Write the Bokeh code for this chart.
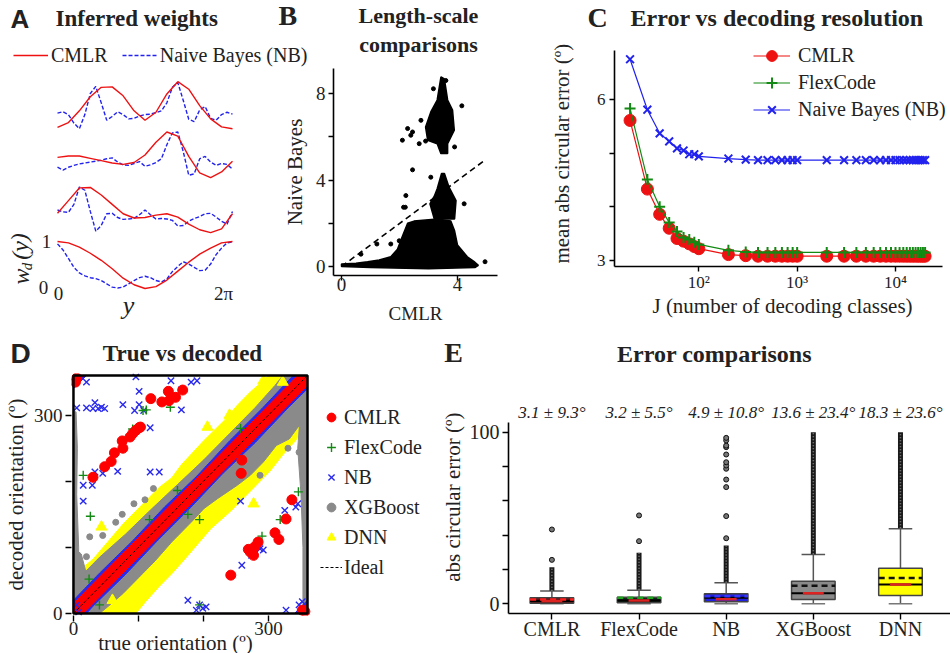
from bokeh.plotting import figure
from bokeh.models import Range1d, FixedTicker, Legend, LegendItem, Label, BoxAnnotation
from bokeh.embed import file_html
from bokeh.resources import INLINE

SERIF = "Liberation Serif"
SANS = "Liberation Sans"
INK = "#222222"
PAGE_W, PAGE_H = 950, 653

# ---------------- Panel A data (inferred weights, normalised 0..1) ----------------
grid16 = [0, 22.5, 45, 67.5, 90, 112.5, 135, 157.5, 180, 202.5, 225, 247.5, 270, 292.5, 315, 337.5, 360]
grid32 = [0, 11.25, 22.5, 33.75, 45, 56.25, 67.5, 78.75, 90, 101.25, 112.5, 123.75, 135, 146.25,
          157.5, 168.75, 180, 191.25, 202.5, 213.75, 225, 236.25, 247.5, 258.75, 270, 281.25,
          292.5, 303.75, 315, 326.25, 337.5, 348.75, 360]
cmlr_w1 = [0.03, 0.13, 0.38, 0.68, 0.88, 0.89, 0.70, 0.38, 0.18, 0.35, 0.74, 1.00, 0.84, 0.49, 0.21, 0.04, 0.00]
cmlr_w2 = [0.43, 0.46, 0.46, 0.41, 0.36, 0.31, 0.28, 0.32, 0.48, 0.75, 0.97, 0.88, 0.45, 0.10, 0.00, 0.12, 0.35]
cmlr_w3 = [0.41, 0.68, 0.95, 0.96, 0.80, 0.60, 0.40, 0.31, 0.32, 0.37, 0.40, 0.33, 0.18, 0.06, 0.00, 0.08, 0.40]
cmlr_w4 = [1.00, 0.97, 0.88, 0.75, 0.60, 0.42, 0.22, 0.08, 0.00, 0.04, 0.18, 0.37, 0.56, 0.73, 0.86, 0.97, 1.00]
nb_w1 = [0.33, 0.36, 0.30, 0.12, 0.00, 0.30, 0.75, 0.90, 0.55, 0.18, 0.26, 0.36, 0.30, 0.21, 0.22, 0.27, 0.30,
         0.31, 0.34, 0.38, 0.55, 0.88, 0.98, 0.60, 0.20, 0.15, 0.40, 0.47, 0.22, 0.18, 0.30, 0.35, 0.31]
nb_w2 = [0.22, 0.16, 0.22, 0.26, 0.29, 0.31, 0.33, 0.35, 0.37, 0.40, 0.42, 0.33, 0.27, 0.26, 0.30, 0.34, 0.24,
         0.27, 0.32, 0.40, 0.70, 0.95, 0.97, 0.55, 0.05, 0.08, 0.40, 0.45, 0.33, 0.26, 0.30, 0.28, 0.18]
nb_w3 = [0.48, 0.44, 0.43, 0.60, 0.97, 0.90, 0.45, 0.03, 0.15, 0.40, 0.41, 0.32, 0.28, 0.29, 0.30, 0.38, 0.48,
         0.38, 0.29, 0.30, 0.29, 0.26, 0.14, 0.15, 0.24, 0.30, 0.34, 0.40, 0.41, 0.33, 0.24, 0.18, 0.45]
nb_w4 = [0.95, 0.82, 0.64, 0.45, 0.33, 0.27, 0.23, 0.21, 0.17, 0.10, 0.03, 0.01, 0.03, 0.10, 0.17, 0.23, 0.26,
         0.23, 0.17, 0.14, 0.20, 0.36, 0.47, 0.57, 0.52, 0.45, 0.38, 0.39, 0.52, 0.72, 0.86, 0.97, 0.99]
stack_offsets = [3.40, 2.36, 1.19, 0.0]

# ---------------- Panel B data (length-scales) ----------------
b_low_x = [0.0, 0.5, 0.9, 1.3, 1.7, 1.93, 2.1, 2.28, 2.5, 2.9, 3.3, 3.77, 3.9, 4.0, 4.34, 4.6, 4.72, 4.6, 3.0, 1.0, 0.0]
b_low_y = [0.12, 0.15, 0.22, 0.3, 0.45, 0.8, 1.4, 2.0, 2.1, 2.15, 2.2, 2.1, 1.65, 1.0, 0.45, 0.2, 0.05, -0.05, -0.1, -0.05, 0.0]
b_mid_x = [3.2, 3.05, 3.2, 3.3, 3.45, 3.55, 3.7, 3.95, 3.9]
b_mid_y = [2.2, 2.9, 3.25, 3.6, 4.3, 4.3, 3.7, 3.05, 2.2]
b_top_x = [3.43, 3.3, 3.08, 2.9, 2.97, 3.3, 3.43, 3.66, 3.66, 3.89, 3.83, 3.66, 3.55]
b_top_y = [8.77, 7.7, 7.15, 6.45, 5.84, 5.68, 5.22, 5.22, 5.68, 6.3, 7.23, 7.7, 8.67]
b_pts_x = [2.28, 2.1, 2.39, 2.45, 2.74, 3.17, 4.15, 2.68, 3.9, 2.45, 3.08, 2.22, 2.14, 2.2, 4.23, 4.95,
           1.22, 0.67, 1.7, 1.99, 3.83, 2.9, 3.6]
b_pts_y = [6.38, 5.84, 6.07, 6.22, 6.76, 8.22, 7.43, 5.68, 5.53, 4.47, 4.13, 3.28, 2.74, 2.74, 2.9, 0.22,
           1.04, 0.57, 1.04, 1.19, 3.05, 5.8, 8.6]
b_diag_x = [0, 4.97]
b_diag_y = [0, 4.94]

# ---------------- Panel C data (error vs J) ----------------
J = [20, 30, 40, 50, 60, 70, 80, 90, 100, 200, 300, 400, 500, 600, 700, 800, 900, 1000,
     2000, 3000, 4000, 5000, 6000, 7000, 8000, 9000, 10000, 11000, 12000, 13000, 14000,
     15000, 16000, 17000, 18000, 19000, 20000]
c_cmlr = [5.61, 4.33, 3.86, 3.60, 3.41, 3.36, 3.31, 3.26, 3.22, 3.11, 3.09, 3.08, 3.08, 3.08, 3.08, 3.08,
          3.08, 3.08, 3.08, 3.08, 3.08, 3.08, 3.08, 3.08, 3.08, 3.08, 3.08, 3.08, 3.08, 3.08, 3.08,
          3.08, 3.08, 3.08, 3.08, 3.08, 3.08]
c_flex = [5.83, 4.51, 4.00, 3.71, 3.54, 3.43, 3.39, 3.34, 3.30, 3.19, 3.16, 3.15, 3.15, 3.15, 3.15, 3.15,
          3.15, 3.15, 3.15, 3.15, 3.15, 3.15, 3.15, 3.15, 3.15, 3.15, 3.15, 3.15, 3.15, 3.15, 3.15,
          3.15, 3.15, 3.15, 3.15, 3.15, 3.15]
c_nb = [6.75, 5.81, 5.37, 5.22, 5.09, 5.05, 4.98, 4.98, 4.94, 4.90, 4.88, 4.87, 4.87, 4.87, 4.87, 4.87,
        4.87, 4.87, 4.87, 4.87, 4.87, 4.87, 4.87, 4.87, 4.87, 4.87, 4.87, 4.87, 4.87, 4.87, 4.87,
        4.87, 4.87, 4.87, 4.87, 4.87, 4.87]

# ---------------- Panel D data (true vs decoded, degrees) ----------------
d_cmlr_x = [3, 5, 30, 48, 58, 63, 76, 75, 87, 91, 96, 101, 103, 119, 136, 146, 147, 157, 168,
            242, 259, 258, 269, 272, 277, 279, 284, 310, 316, 327, 336, 352, 356]
d_cmlr_y = [350, 356, 206, 222, 230, 243, 250, 261, 267, 272, 277, 281, 282, 325, 320, 336, 322, 327, 338,
            58, 232, 212, 97, 93, 88, 101, 108, 122, 112, 143, 172, 5, 3]
d_nb_x = [20, 5, 20, 33, 30, 38, 43, 48, 76, 94, 101, 101, 108, 118, 150, 166, 166, 181, 190,
          15, 15, 29, 33, 45, 68, 118, 132, 176, 194, 199, 204, 189, 259, 257, 274, 287, 292,
          325, 342, 345, 5, 8, 327, 347, 352, 96]
d_nb_y = [350, 311, 311, 319, 310, 310, 312, 310, 316, 307, 336, 316, 307, 281, 352, 338, 308, 350, 352,
          194, 170, 194, 214, 212, 215, 214, 214, 20, 13, 8, 10, 5, 73, 170, 88, 98, 96,
          156, 161, 166, 13, 2, 5, 13, 18, 358]
d_flex_x = [15, 26, 24, 107, 112, 149, 91, 290, 318, 346, 194, 117, 176, 194, 160, 257, 40]
d_flex_y = [209, 147, 52, 307, 308, 312, 279, 117, 142, 184, 13, 142, 150, 142, 186, 280, 13]
d_xgb_x = [123, 93, 65, 25, 20, 347, 287, 110, 75, 45, 330]
d_xgb_y = [189, 166, 138, 116, 86, 244, 209, 172, 150, 118, 250]
d_dnn_x = [206, 151, 98, 277, 43, 292, 322, 60, 240]
d_dnn_y = [282, 86, 25, 166, 131, 352, 350, 20, 300]
# regions densely covered by each decoder's points
d_red_xs = [[0, 0, 345, 360, 360, 15], [0, 0, 15], [345, 360, 360]]
d_red_ys = [[0, 15, 360, 360, 345, 0], [345, 360, 360], [0, 0, 15]]
d_blue_xs = [[0, 0, 40, 90, 140, 190, 240, 290, 338, 360, 360, 330, 280, 230, 180, 130, 80, 30, 20],
             [0, 0, 20], [340, 360, 360]]
d_blue_ys = [[0, 20, 61, 109, 161, 208, 261, 310, 360, 360, 340, 311, 259, 212, 160, 111, 59, 11, 0],
             [340, 360, 360], [0, 0, 20]]
d_yel_xs = [[0, 0, 30, 76, 101, 131, 151, 166, 201, 232, 252, 272, 292, 300, 360, 360, 342, 322, 302,
             282, 262, 242, 211, 191, 171, 151, 131, 111, 96]]
d_yel_ys = [[0, 58, 82, 135, 160, 190, 205, 225, 262, 292, 315, 335, 352, 360, 360, 290, 262, 240, 215,
             195, 175, 155, 128, 105, 82, 60, 40, 18, 0]]
d_gray_xs = [[0, 0, 40, 80, 120, 160, 200, 240, 280, 310, 322, 360, 360, 347, 332, 312, 292, 272, 252,
              222, 201, 181, 151, 126, 101, 76, 50, 40],
             [0, 7, 8, 5, 6, 4, 0],
             [0, 40, 30, 20, 12, 0],
             [353, 360, 360, 348, 345, 350, 353]]
d_gray_ys = [[0, 45, 85, 120, 158, 195, 232, 272, 312, 345, 360, 360, 300, 284, 264, 254, 229, 209, 194,
              174, 159, 138, 108, 80, 55, 30, 8, 0],
             [0, 0, 100, 180, 250, 305, 305],
             [0, 0, 30, 60, 90, 100],
             [0, 0, 300, 290, 250, 180, 100]]
d_ideal = [0, 360]
d_lim = [0, 360]

# ---------------- Panel E data (abs circular error boxplots) ----------------
e_names = ["CMLR", "FlexCode", "NB", "XGBoost", "DNN"]
e_pos = [1, 2, 3, 4, 5]
e_q1 = [0.35, 0.6, 1.2, 2.5, 4.8]
e_q3 = [3.5, 3.8, 5.8, 13.2, 20.7]
e_median = [1.7, 1.9, 3.5, 6.2, 11.2]
e_red_line = [1.7, 1.9, 2.7, 6.2, 11.2]
e_mean_line = [2.5, 3.5, 4.4, 10.5, 15.1]
e_whisk_lo = [0, 0, 0, 0, 0]
e_whisk_hi = [7.4, 7.9, 12.2, 28.7, 43.7]
e_dense_lo = [7.6, 8.2, 12.4, 28.9, 44.0]
e_dense_hi = [21.3, 29.7, 34.0, 100.0, 100.0]
e_out_x = [1, 1, 2, 2, 3, 3, 3, 3, 3, 3, 3, 3, 3, 3, 3, 3]
e_out_y = [25.6, 43.3, 36.5, 51.5, 38.2, 51.1, 68.0, 72.4, 78.7, 80.6, 82.5, 87.0, 91.3, 92.2, 95.2, 96.7]
e_stats = ["3.1 \u00b1 9.3\u00b0", "3.2 \u00b1 5.5\u00b0", "4.9 \u00b1 10.8\u00b0",
           "13.6 \u00b1 23.4\u00b0", "18.3 \u00b1 23.6\u00b0"]
e_fill = ["#5a1010", "#12281a", "#1f1fe0", "#8a8a8a", "#ffff00"]
e_mean_col = ["#ff2020", "#22a022", "#3535ff", "#111111", "#111111"]

COL_RED, COL_GREEN, COL_BLUE = "#ee1111", "#138a13", "#2222ee"


def make_fig(left, top, width, height, **kw):
    return figure(width=width, height=height, output_backend="svg", toolbar_location=None,
                  background_fill_color=None, border_fill_color=None,
                  styles={"position": "absolute", "left": f"{left}px", "top": f"{top}px"}, **kw)


def style_axes(p, tick_size=19, label_size=21, tick_out=5):
    p.grid.visible = False
    for ax in p.axis:
        ax.axis_line_width = 1.6
        ax.axis_line_color = "black"
        ax.major_tick_line_width = 1.4
        ax.major_tick_line_color = "black"
        ax.major_tick_out = tick_out
        ax.major_tick_in = 0
        ax.minor_tick_line_color = None
        ax.major_label_text_font = SERIF
        ax.major_label_text_font_size = f"{tick_size}px"
        ax.major_label_text_color = INK
        ax.axis_label_text_font = SERIF
        ax.axis_label_text_font_size = f"{label_size}px"
        ax.axis_label_text_font_style = "normal"
        ax.axis_label_text_color = INK


# ================= Panel A (curves) =================
A_L, A_T, A_W, A_H = 0, 0, 320, 330
px_per_deg = 175 / 360.0
px_per_unit = 47.0
pa = make_fig(A_L, A_T, A_W, A_H,
              x_range=Range1d(-57 / px_per_deg, (A_W - 57) / px_per_deg),
              y_range=Range1d(-(A_H - 288) / px_per_unit, 288 / px_per_unit),
              x_axis_location=None, y_axis_location=None, min_border=0, outline_line_color=None)
pa.grid.visible = False
r_nb = r_cm = None
for off, nbw, cmw in zip(stack_offsets, [nb_w1, nb_w2, nb_w3, nb_w4], [cmlr_w1, cmlr_w2, cmlr_w3, cmlr_w4]):
    r_nb = pa.line(grid32, [v + off for v in nbw], line_color=COL_BLUE, line_width=1.4, line_dash="4 2")
    r_cm = pa.line(grid16, [v + off for v in cmw], line_color=COL_RED, line_width=1.4)
leg_a = Legend(items=[LegendItem(label="CMLR", renderers=[r_cm]),
                      LegendItem(label="Naive Bayes (NB)", renderers=[r_nb])],
               orientation="horizontal", location=(13, A_H - 67), padding=0, margin=0, spacing=14,
               glyph_width=35, glyph_height=24, label_height=24, label_standoff=3,
               border_line_color=None, background_fill_alpha=0,
               label_text_font=SERIF, label_text_font_size="20px", label_text_color=INK)
pa.add_layout(leg_a)

# ================= Panel B =================
B_L, B_T, B_W, B_H = 250, 0, 295, 340
b_ppu_y = 21.625
pb = make_fig(B_L, B_T, B_W, B_H,
              x_range=Range1d(-0.276, 5.38),
              y_range=Range1d(-(275 - 266) / b_ppu_y, (266 - 68) / b_ppu_y),
              min_border_left=333 - B_L, min_border_right=B_L + B_W - 497,
              min_border_top=68, min_border_bottom=B_H - 275, outline_line_color=None)
pb.patches([b_low_x, b_mid_x, b_top_x], [b_low_y, b_mid_y, b_top_y], fill_color="black",
           line_color="black", line_width=1.5)
pb.scatter(b_pts_x, b_pts_y, size=4, color="black")
pb.line(b_diag_x, b_diag_y, line_color="black", line_width=1.6, line_dash="6 4")
style_axes(pb, tick_size=19, label_size=21, tick_out=5)
pb.xaxis.ticker = FixedTicker(ticks=[0, 4])
pb.yaxis.ticker = FixedTicker(ticks=[0, 2, 4, 6, 8])
pb.yaxis.major_label_overrides = {2: "", 6: ""}
pb.xaxis.axis_label = "CMLR"
pb.xaxis.axis_label_text_font_size = "19px"
pb.yaxis.axis_label = "Naive Bayes"
pb.xaxis.major_label_standoff = -3
pb.xaxis.axis_label_standoff = 9
pb.yaxis.major_label_standoff = 3
pb.yaxis.axis_label_standoff = 6

# ================= Panel C =================
C_L, C_T, C_W, C_H = 545, 0, 405, 330
c_ppu = 53.667
c_ppd = 98.35          # px per decade
C_TOP = 35
pc = make_fig(C_L, C_T, C_W, C_H, x_axis_type="log",
              x_range=Range1d(10 ** (2 - (698.3 - 614) / c_ppd), 10 ** (2 + (950 - 698.3) / c_ppd)),
              y_range=Range1d(3 - (266 - 260) / c_ppu, 6 + (99 - C_TOP) / c_ppu),
              min_border_left=614 - C_L, min_border_right=0, min_border_top=C_TOP,
              min_border_bottom=C_H - 266, outline_line_color=None)
lc1 = pc.line(J, c_cmlr, line_color=COL_RED, line_width=1.2)
sc1 = pc.scatter(J, c_cmlr, marker="circle", size=12, color=COL_RED)
lc2 = pc.line(J, c_flex, line_color=COL_GREEN, line_width=1.2)
sc2 = pc.scatter(J, c_flex, marker="cross", size=11, line_color=COL_GREEN, line_width=2)
lc3 = pc.line(J, c_nb, line_color=COL_BLUE, line_width=1.2)
sc3 = pc.scatter(J, c_nb, marker="x", size=11, line_color=COL_BLUE, line_width=2)
style_axes(pc, tick_size=17, label_size=21)
pc.xaxis.ticker = FixedTicker(ticks=[100, 1000, 10000])
pc.xaxis.major_label_overrides = {100: "10\u00b2", 1000: "10\u00b3", 10000: "10\u2074"}
pc.xaxis.bounds = (10 ** (2 - (698.3 - 614) / c_ppd), 10 ** (2 + (942 - 698.3) / c_ppd))
pc.yaxis.ticker = FixedTicker(ticks=[3, 4, 5, 6])
pc.yaxis.major_label_overrides = {4: "", 5: ""}
pc.yaxis.bounds = (3 - (266 - 260) / c_ppu, 6 + (99 - 50) / c_ppu)
pc.xaxis.axis_label = "J (number of decoding classes)"
pc.yaxis.axis_label = "mean abs circular error  (\u00ba)"
pc.xaxis.major_label_standoff = 1
pc.xaxis.axis_label_standoff = -1
pc.yaxis.major_label_standoff = 4
pc.yaxis.axis_label_standoff = 20
leg_c = Legend(items=[LegendItem(label="CMLR", renderers=[lc1, sc1]),
                      LegendItem(label="FlexCode", renderers=[lc2, sc2]),
                      LegendItem(label="Naive Bayes (NB)", renderers=[lc3, sc3])],
               location=(753 - 614, 266 - 123), padding=0, margin=0, spacing=0, glyph_width=37,
               glyph_height=27, label_height=27, label_standoff=8, border_line_color=None,
               background_fill_alpha=0, label_text_font=SERIF, label_text_font_size="20px",
               label_text_color=INK)
pc.add_layout(leg_c)

# ================= Panel D =================
D_L, D_T, D_W, D_H = 0, 330, 440, 323
d_ppd = 238 / 360.0     # px per degree
D_FL, D_FR, D_FT, D_FB = 65, 425, 43, 285   # frame edges (local px); box of 0..360 spans 67..305
d_x0 = -(67 - D_FL) / d_ppd
d_y0 = -(D_FB - 283) / d_ppd
pd = make_fig(D_L, D_T, D_W, D_H,
              x_range=Range1d(d_x0, d_x0 + (D_FR - D_FL) / d_ppd),
              y_range=Range1d(d_y0, d_y0 + (D_FB - D_FT) / d_ppd),
              min_border_left=D_FL, min_border_right=D_W - D_FR, min_border_top=D_FT,
              min_border_bottom=D_H - D_FB, outline_line_color=None)
pd.patches(d_yel_xs, d_yel_ys, fill_color="#ffff00", line_color="#ffff00")
pd.patches(d_gray_xs, d_gray_ys, fill_color="#8a8a8a", line_color="#8a8a8a")
pd.patches(d_blue_xs, d_blue_ys, fill_color="#2a2aee", line_color="#2a2aee")
pd.patches(d_red_xs, d_red_ys, fill_color="#ff0000", line_color="#ff0000")
rd_dnn = pd.scatter(d_dnn_x, d_dnn_y, marker="triangle", size=11, color="#ffff00")
rd_xgb = pd.scatter(d_xgb_x, d_xgb_y, marker="circle", size=6, color="#8a8a8a")
rd_nb = pd.scatter(d_nb_x, d_nb_y, marker="x", size=9, line_color="#2a2aee", line_width=1.4)
rd_flx = pd.scatter(d_flex_x, d_flex_y, marker="cross", size=9, line_color=COL_GREEN, line_width=1.4)
rd_cm = pd.scatter(d_cmlr_x, d_cmlr_y, marker="circle", size=10, color="#ff0000")
rd_id = pd.line(d_ideal, d_ideal, line_color="black", line_width=1, line_dash="3 2")
pd.add_layout(BoxAnnotation(left=d_lim[0], right=d_lim[1], bottom=d_lim[0], top=d_lim[1],
                            fill_color=None, fill_alpha=0, line_color="black", line_alpha=1.0,
                            line_width=2.5))
style_axes(pd, tick_size=19, label_size=21, tick_out=6)
for ax in pd.axis:
    ax.axis_line_color = None
    ax.ticker = FixedTicker(ticks=[0, 100, 200, 300])
    ax.major_label_overrides = {100: "", 200: ""}
pd.yaxis.axis_label = "decoded orientation (\u00ba)"
pd.xaxis.major_label_standoff = 0
pd.yaxis.major_label_standoff = 3
pd.yaxis.axis_label_standoff = 3
leg_d = Legend(items=[LegendItem(label=n, renderers=[r]) for n, r in
                      zip(["CMLR", "FlexCode", "NB", "XGBoost", "DNN", "Ideal"],
                          [rd_cm, rd_flx, rd_nb, rd_xgb, rd_dnn, rd_id])],
               location=(314 - D_FL, (D_T + D_FB) - 582), padding=0, margin=0, spacing=0,
               glyph_width=22, glyph_height=30, label_height=30, label_standoff=2,
               border_line_color=None, background_fill_alpha=0, label_text_font=SERIF,
               label_text_font_size="20px", label_text_color=INK)
pd.add_layout(leg_d)

# ================= Panel E =================
E_L, E_T, E_W, E_H = 420, 330, 530, 323
e_ppu = 1.716
e_zero = 273.3
pe = make_fig(E_L, E_T, E_W, E_H, x_range=Range1d(0.502, 5.574),
              y_range=Range1d(-(283 - e_zero) / e_ppu, (e_zero - 45) / e_ppu),
              min_border_left=508 - E_L, min_border_right=0, min_border_top=45,
              min_border_bottom=40, outline_line_color=None)
half = 0.25
pe.segment(e_pos, e_q3, e_pos, e_whisk_hi, line_color="#555555", line_width=1.5)
pe.segment(e_pos, e_whisk_lo, e_pos, e_q1, line_color="#555555", line_width=1.5)
pe.segment([x - 0.135 for x in e_pos], e_whisk_hi, [x + 0.135 for x in e_pos], e_whisk_hi,
           line_color="#555555", line_width=1.5)
pe.segment([x - 0.135 for x in e_pos], e_whisk_lo, [x + 0.135 for x in e_pos], e_whisk_lo,
           line_color="#777777", line_width=1.5)
pe.segment(e_pos, e_dense_lo, e_pos, e_dense_hi, line_color="#1a1a1a", line_width=5)
pe.segment(e_pos, e_dense_lo, e_pos, e_dense_hi, line_color="#8a8a8a", line_width=1.5, line_dash="1 2")
pe.scatter(e_out_x, e_out_y, marker="circle", size=5, fill_color="#777777", line_color="#111111")
pe.quad(left=[x - half for x in e_pos], right=[x + half for x in e_pos], bottom=e_q1, top=e_q3,
        fill_color=e_fill, line_color="#444444", line_width=1.5)
pe.segment([x - half for x in e_pos], e_median, [x + half for x in e_pos], e_median,
           line_color="black", line_width=2)
pe.segment([x - half for x in e_pos], e_mean_line, [x + half for x in e_pos], e_mean_line,
           line_color=e_mean_col, line_width=2.5, line_dash="6 4")
pe.segment([x - 0.12 for x in e_pos], e_red_line, [x + 0.12 for x in e_pos], e_red_line,
           line_color="#dd2222", line_width=2.5)
style_axes(pe, tick_size=20, label_size=21, tick_out=6)
pe.xaxis.ticker = FixedTicker(ticks=e_pos)
pe.xaxis.major_label_overrides = {p: n for p, n in zip(e_pos, e_names)}
pe.yaxis.ticker = FixedTicker(ticks=[0, 20, 40, 60, 80, 100])
pe.yaxis.major_label_overrides = {20: "", 40: "", 60: "", 80: ""}
pe.yaxis.bounds = (-(283 - e_zero) / e_ppu, (e_zero - 91.7) / e_ppu)
pe.yaxis.axis_label = "abs circular error  (\u00ba)"
pe.xaxis.major_label_standoff = -2
pe.yaxis.major_label_standoff = 3
pe.yaxis.axis_label_standoff = 2
for xp, s in zip(e_pos, e_stats):
    pe.add_layout(Label(x=xp, y=111.5, text=s, text_font=SERIF, text_font_size="17px",
                        text_font_style="italic", text_align="center", text_baseline="middle",
                        text_color=INK))

# ================= Overlay: panel titles and the texts that sit outside plot frames =================
po = make_fig(0, 0, PAGE_W, PAGE_H, x_range=Range1d(0, PAGE_W), y_range=Range1d(PAGE_H, 0),
              x_axis_location=None, y_axis_location=None, min_border=0, outline_line_color=None)
po.grid.visible = False


def add_text(x, y, text, size, style="normal", font=SERIF, align="left", angle=0.0):
    po.add_layout(Label(x=x, y=y, text=text, text_font=font, text_font_size=f"{size}px",
                        text_font_style=style, text_align=align, text_baseline="middle",
                        angle=angle, text_color=INK))


add_text(10, 18, "A", 26, "bold", SANS)
add_text(55, 18, "Inferred weights", 23, "bold")
add_text(46, 241, "1", 19, align="center")
add_text(43, 287, "0", 19, align="center")
add_text(58, 293, "0", 19, align="center")
add_text(223, 293, "2\u03c0", 19, align="center")
add_text(128, 305, "y", 26, "italic", align="center")
add_text(20, 276, "w", 24, "italic", align="center", angle=1.5708)
add_text(26, 266, "d", 15, "italic", align="center", angle=1.5708)
add_text(19, 246, "(y)", 24, "italic", align="center", angle=1.5708)
add_text(278, 15, "B", 28, "bold")
add_text(418, 15, "Length-scale", 22, "bold", align="center")
add_text(418, 44, "comparisons", 22, "bold", align="center")
add_text(597, 17, "C", 28, "bold", align="center")
add_text(630, 17, "Error vs decoding resolution", 24, "bold")
add_text(10, 353, "D", 28, "bold", SANS)
add_text(182, 353, "True vs decoded", 23, "bold", align="center")
add_text(175, 642, "true orientation (\u00ba)", 21, align="center")
add_text(453, 352, "E", 28, "bold", align="center")
add_text(714, 353, "Error comparisons", 24, "bold", align="center")

open("out.html", "w").write(file_html([pa, pb, pc, pd, pe, po], INLINE, title="chart"))
